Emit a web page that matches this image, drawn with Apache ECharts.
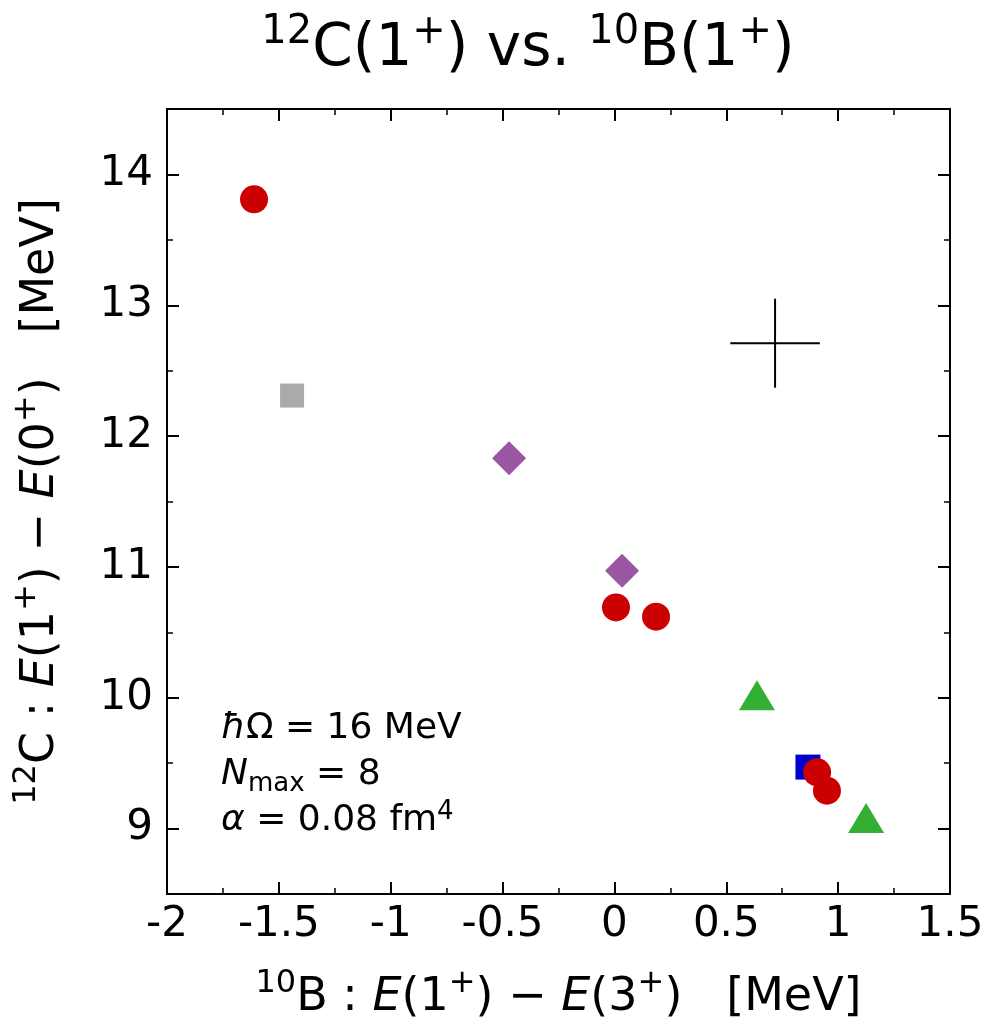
<!DOCTYPE html>
<html>
<head>
<meta charset="utf-8">
<script src="https://cdn.jsdelivr.net/npm/echarts@6/dist/echarts.min.js"></script>
<style>html,body{margin:0;padding:0;background:#fff;}#c{width:988px;height:1026px;}</style>
</head>
<body>
<div id="c"></div>
<script>
// ---- data (x: 10B E(1+)-E(3+), y: 12C E(1+)-E(0+), MeV) ----
const redCircles = [[-1.611, 13.81], [0.007, 10.69], [0.186, 10.62], [0.906, 9.43], [0.950, 9.29]];
const graySquares = [[-1.441, 12.31]];
const purpleDiamonds = [[-0.471, 11.83], [0.034, 10.97]];
const greenTriangles = [[0.637, 10.02], [1.125, 9.08]];
const blueSquares = [[0.865, 9.47]];
// experiment: x, y, xerr, yerr
const experiment = [[0.718, 12.71, 0.20, 0.34]];
const xTicks = { min: -2, max: 1.5, step: 0.5 };
const yTicks = { min: 8.5, max: 14.5 };

const FONT = 'DejaVu Sans';
const chart = echarts.init(document.getElementById('c'), null, { renderer: 'canvas' });

const nameRich = (fs) => ({
  n: { fontSize: fs, fontFamily: FONT, color: '#000', lineHeight: 60, fontWeight: 'normal' },
  i: { fontSize: fs, fontFamily: FONT, fontStyle: 'italic', color: '#000', lineHeight: 60, fontWeight: 'normal' },
  sup: { fontSize: Math.round(fs * 0.7), fontFamily: FONT, color: '#000', lineHeight: 34, verticalAlign: 'top', fontWeight: 'normal' }
});

const frameAxisCommon = {
  axisLine: { show: true, onZero: false, lineStyle: { color: '#000', width: 2 } },
  axisTick: { show: true, inside: true, length: 12, lineStyle: { color: '#000', width: 2 } },
  minorTick: { show: true, splitNumber: 2, length: 6, lineStyle: { color: '#000', width: 1.5 } },
  splitLine: { show: false },
  minorSplitLine: { show: false }
};

chart.setOption({
  animation: false,
  backgroundColor: '#fff',
  title: {
    text: '{sup|12}{n|C(1}{sup|+}{n|) vs. }{sup|10}{n|B(1}{sup|+}{n|)}',
    left: 523,
    top: 8,
    textAlign: 'center',
    textStyle: {
      fontWeight: 'normal',
      rich: {
        n: { fontSize: 58, fontFamily: FONT, color: '#000', lineHeight: 74, fontWeight: 'normal' },
        sup: { fontSize: 40, fontFamily: FONT, color: '#000', lineHeight: 42, verticalAlign: 'top', fontWeight: 'normal' }
      }
    }
  },
  grid: { left: 167, right: 38, top: 109, bottom: 132, containLabel: false },
  xAxis: [
    Object.assign({}, frameAxisCommon, {
      type: 'value', position: 'bottom',
      min: xTicks.min, max: xTicks.max, interval: xTicks.step,
      axisLabel: { show: true, fontSize: 42, fontFamily: FONT, color: '#000', margin: 10 },
      name: '{sup|10}{n|B : }{i|E}{n|(1}{sup|+}{n|) − }{i|E}{n|(3}{sup|+}{n|)   [MeV]}',
      nameLocation: 'middle', nameGap: 74,
      nameTextStyle: { rich: nameRich(46) }
    }),
    Object.assign({}, frameAxisCommon, {
      type: 'value', position: 'top',
      min: xTicks.min, max: xTicks.max, interval: xTicks.step,
      axisLabel: { show: false }
    })
  ],
  yAxis: [
    Object.assign({}, frameAxisCommon, {
      type: 'value', position: 'left',
      min: yTicks.min, max: yTicks.max, splitNumber: 6,
      axisLabel: { show: true, fontSize: 42, fontFamily: FONT, color: '#000', margin: 14,
        showMinLabel: false, showMaxLabel: false,
        formatter: v => (Math.abs(v - Math.round(v)) < 1e-9 ? String(Math.round(v)) : '') },
      name: '{sup|12}{n|C : }{i|E}{n|(1}{sup|+}{n|) − }{i|E}{n|(0}{sup|+}{n|)   [MeV]}',
      nameLocation: 'middle', nameGap: 96, nameRotate: 90,
      nameTextStyle: { rich: nameRich(46) }
    }),
    Object.assign({}, frameAxisCommon, {
      type: 'value', position: 'right',
      min: yTicks.min, max: yTicks.max, splitNumber: 6,
      axisLabel: { show: false }
    })
  ],
  graphic: [
    { type: 'text', left: 221, top: 711, style: { text: '{i|ħ}{n|Ω = 16 MeV}', rich: {
      n: { fontSize: 36, fontFamily: FONT, fill: '#000' }, i: { fontSize: 36, fontFamily: FONT, fontStyle: 'italic', fill: '#000' } } } },
    { type: 'text', left: 221, top: 757, style: { text: '{i|N}{sub|max}{n| = 8}', rich: {
      n: { fontSize: 36, fontFamily: FONT, fill: '#000', lineHeight: 44 }, i: { fontSize: 36, fontFamily: FONT, fontStyle: 'italic', fill: '#000', lineHeight: 44 },
      sub: { fontSize: 26, fontFamily: FONT, fill: '#000', lineHeight: 28, verticalAlign: 'bottom' } } } },
    { type: 'text', left: 221, top: 799, style: { text: '{i|α}{n| = 0.08 fm}{sup|4}', rich: {
      n: { fontSize: 36, fontFamily: FONT, fill: '#000', lineHeight: 44 }, i: { fontSize: 36, fontFamily: FONT, fontStyle: 'italic', fill: '#000', lineHeight: 44 },
      sup: { fontSize: 26, fontFamily: FONT, fill: '#000', lineHeight: 26, verticalAlign: 'top' } } } }
  ],
  series: [
    { type: 'scatter', name: 'gray', data: graySquares, symbol: 'rect', symbolSize: 24, itemStyle: { color: '#aaaaaa', opacity: 1 } },
    { type: 'scatter', name: 'purple', data: purpleDiamonds, symbol: 'diamond', symbolSize: [34, 34], itemStyle: { color: '#9a55a3', opacity: 1 } },
    { type: 'scatter', name: 'green', data: greenTriangles, symbol: 'triangle', symbolSize: [36, 30], itemStyle: { color: '#33b033', opacity: 1 } },
    { type: 'scatter', name: 'blue', data: blueSquares, symbol: 'rect', symbolSize: 25, itemStyle: { color: '#0000cc', opacity: 1 } },
    { type: 'scatter', name: 'red', data: redCircles, symbol: 'circle', symbolSize: 28, itemStyle: { color: '#cc0000', opacity: 1 } },
    {
      type: 'custom', name: 'experiment', data: experiment,
      encode: { x: 0, y: 1 },
      renderItem: function (params, api) {
        const x = api.value(0), y = api.value(1), ex = api.value(2), ey = api.value(3);
        const l = api.coord([x - ex, y]), r = api.coord([x + ex, y]);
        const t = api.coord([x, y + ey]), b = api.coord([x, y - ey]);
        const st = { stroke: '#000', lineWidth: 2 };
        return { type: 'group', children: [
          { type: 'line', shape: { x1: l[0], y1: l[1], x2: r[0], y2: r[1] }, style: st },
          { type: 'line', shape: { x1: t[0], y1: t[1], x2: b[0], y2: b[1] }, style: st }
        ] };
      }
    }
  ]
});
</script>
</body>
</html>
